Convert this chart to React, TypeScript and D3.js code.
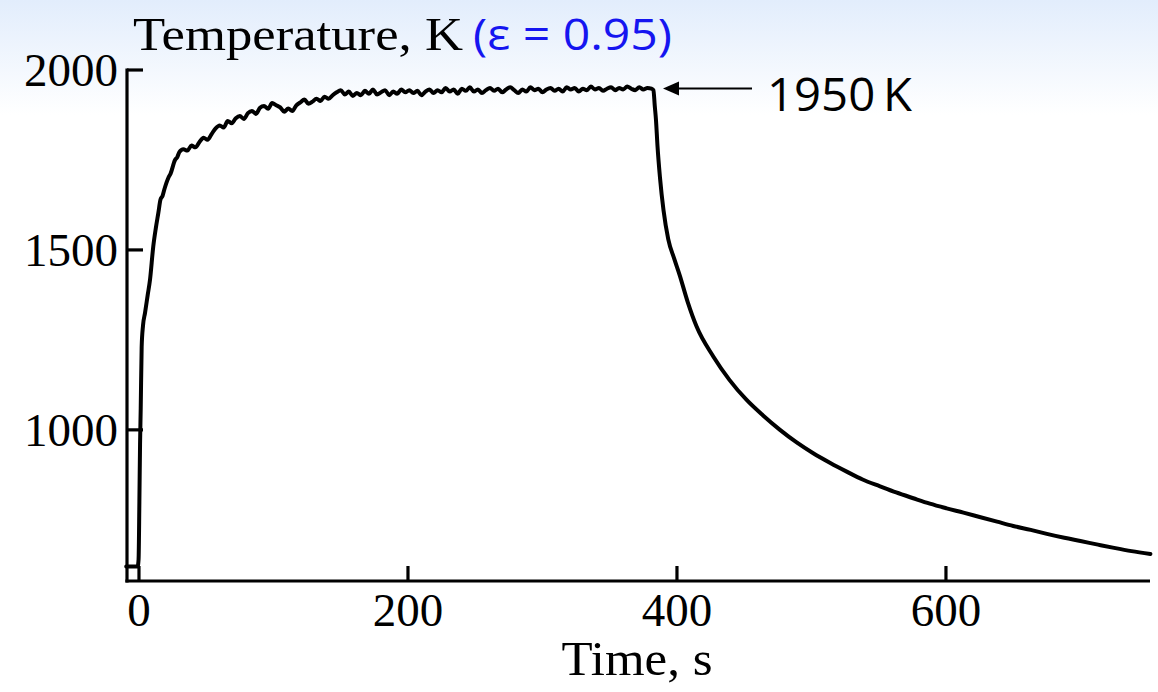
import React from "react";
import * as d3 from "d3";

const W = 1158;
const H = 692;

// Heating phase (s, K)
const riseTime = [-9.5, -1, -0.3, 0.3, 0.8, 1.3, 2.0, 3.0, 4.5, 6.5, 8.2, 10.6, 12.5, 14.4, 16, 17.5, 19, 21.8, 23.5, 26.8, 28.5];
const riseTemp = [620, 620, 640, 800, 960, 1060, 1231, 1290, 1325, 1375, 1417, 1509, 1560, 1603, 1640, 1650, 1670, 1700, 1712, 1750, 1758];

// Plateau (s, K)
const plateauTime = [30, 33, 36, 39, 42, 45, 48, 51, 54, 57, 60, 63, 66, 69, 72, 75, 78, 81, 84, 87, 90, 93, 96, 99, 102, 105, 108, 111, 114, 117, 120, 123, 126, 129, 132, 135, 138, 141, 144, 147, 150, 153, 156, 159, 162, 165, 168, 171, 174, 177, 180, 183, 186, 189, 192, 195, 198, 201, 204, 207, 210, 213, 216, 219, 222, 225, 228, 231, 234, 237, 240, 243, 246, 249, 252, 255, 258, 261, 264, 267, 270, 273, 276, 279, 282, 285, 288, 291, 294, 297, 300, 303, 306, 309, 312, 315, 318, 321, 324, 327, 330, 333, 336, 339, 342, 345, 348, 351, 354, 357, 360, 363, 366, 369, 372, 375, 378, 381];
const plateauTemp = [1772, 1780, 1776, 1790, 1785, 1800, 1812, 1806, 1822, 1838, 1846, 1840, 1858, 1852, 1866, 1872, 1864, 1880, 1886, 1878, 1895, 1900, 1892, 1908, 1902, 1896, 1884, 1893, 1886, 1902, 1910, 1918, 1906, 1912, 1920, 1914, 1926, 1920, 1930, 1938, 1944, 1932, 1940, 1928, 1936, 1930, 1942, 1934, 1946, 1932, 1938, 1944, 1930, 1940, 1934, 1946, 1938, 1944, 1936, 1942, 1930, 1940, 1946, 1936, 1944, 1938, 1950, 1940, 1946, 1934, 1948, 1942, 1952, 1940, 1946, 1936, 1944, 1950, 1942, 1948, 1938, 1946, 1952, 1944, 1936, 1946, 1940, 1952, 1944, 1948, 1938, 1946, 1950, 1942, 1948, 1940, 1952, 1946, 1950, 1940, 1948, 1944, 1954, 1946, 1950, 1942, 1948, 1952, 1944, 1950, 1946, 1954, 1948, 1944, 1952, 1946, 1950, 1948];

// Cooling phase (s, K)
const coolTime = [382.5, 383.5, 384.4, 385.5, 387.4, 390, 393.5, 398, 402, 408, 414.6, 427, 439, 451.8, 464, 476.6, 489, 501.3, 514, 526.2, 538, 551, 563, 575.7, 588, 600.5, 613, 625, 638, 650, 663, 675, 688, 700, 713, 725, 738, 752];
const coolTemp = [1944, 1900, 1861, 1790, 1700, 1610, 1530, 1475, 1430, 1355, 1287, 1204, 1139, 1083, 1040, 1000, 965, 935, 908, 884, 862, 843, 826, 810, 795, 782, 770, 758, 745, 733, 722, 711, 700, 691, 681, 672, 663, 655];

const xTicks = [0, 200, 400, 600];
const yTicks = [1000, 1500, 2000];

const times = [...riseTime, ...plateauTime, ...coolTime];
const temps = [...riseTemp, ...plateauTemp, ...coolTemp];
const data = times.map((t, i) => ({ t, T: temps[i] }));

export default function App() {
  const x = d3.scaleLinear().domain([-9.5, 752]).range([126.2, 1150.4]);
  const y = d3.scaleLinear().domain([580, 2000]).range([581, 70]);
  const line = d3
    .line<{ t: number; T: number }>()
    .x((d) => x(d.t))
    .y((d) => y(d.T))
    .curve(d3.curveMonotoneX);

  const serif = "'Liberation Serif', 'Times New Roman', serif";
  const sans = "'Open Sans', 'Noto Sans', sans-serif";
  const axisX = 127;
  const axisY = 581;
  const arrowY = y(1950) + 0.5;

  return (
    <svg width={W} height={H} style={{ position: "absolute", left: 0, top: 0 }}>
      <defs>
        <linearGradient id="bg" x1="0" y1="0" x2="0" y2="1">
          <stop offset="0" stopColor="#e2edfc" />
          <stop offset="1" stopColor="#ffffff" />
        </linearGradient>
      </defs>
      <rect x={0} y={0} width={W} height={H} fill="#ffffff" />
      <rect x={0} y={0} width={W} height={115} fill="url(#bg)" />

      {/* data curve */}
      <path d={line(data) || ""} fill="none" stroke="#000" strokeWidth={4} strokeLinejoin="round" strokeLinecap="round" />

      {/* axes */}
      <line x1={axisX} y1={y(2000) - 1.5} x2={axisX} y2={axisY + 1.5} stroke="#000" strokeWidth={3.2} />
      <line x1={axisX - 1.6} y1={axisY} x2={1150} y2={axisY} stroke="#000" strokeWidth={3.2} />

      {yTicks.map((v) => (
        <g key={"y" + v}>
          <line x1={axisX} x2={axisX + 16} y1={y(v)} y2={y(v)} stroke="#000" strokeWidth={3.2} />
          <text x={118} y={y(v) + 16} textAnchor="end" fontFamily={serif} fontSize={47} fill="#000">
            {v}
          </text>
        </g>
      ))}
      {xTicks.map((v) => (
        <g key={"x" + v}>
          <line x1={x(v)} x2={x(v)} y1={axisY} y2={axisY - 15} stroke="#000" strokeWidth={3.2} />
          <text x={x(v)} y={626} textAnchor="middle" fontFamily={serif} fontSize={47} fill="#000">
            {v}
          </text>
        </g>
      ))}

      {/* axis titles */}
      <text x={133} y={50} fontFamily={serif} fontSize={47} fill="#000" textLength={330} lengthAdjust="spacingAndGlyphs">
        Temperature, K
      </text>
      <text x={473} y={50} fontFamily={sans} fontSize={44} fill="#1515f0" textLength={199} lengthAdjust="spacingAndGlyphs">
        (ε = 0.95)
      </text>
      <text x={637} y={675} textAnchor="middle" fontFamily={serif} fontSize={48} fill="#000" textLength={151} lengthAdjust="spacingAndGlyphs">
        Time, s
      </text>

      {/* annotation */}
      <line x1={676} x2={752} y1={arrowY} y2={arrowY} stroke="#000" strokeWidth={2} />
      <path d={`M ${663} ${arrowY} L ${679} ${arrowY - 7} L ${679} ${arrowY + 7} Z`} fill="#000" />
      <text x={767} y={111} fontFamily={sans} fontSize={46} fill="#000" textLength={145} lengthAdjust="spacingAndGlyphs">
        1950{"\u2009"}K
      </text>
    </svg>
  );
}
